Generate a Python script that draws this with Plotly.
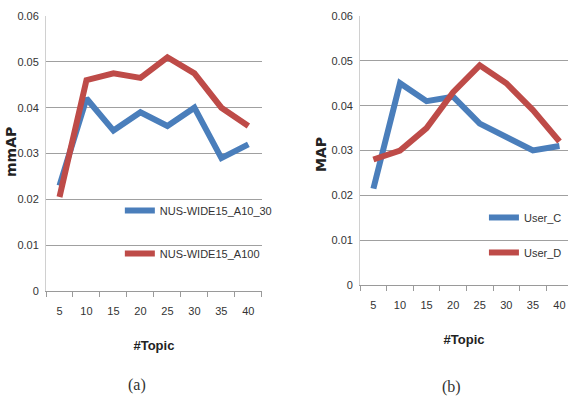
import plotly.graph_objects as go

topics = ["5", "10", "15", "20", "25", "30", "35", "40"]
a_blue = [0.023, 0.042, 0.035, 0.039, 0.036, 0.040, 0.029, 0.032]
a_red = [0.0205, 0.046, 0.0475, 0.0465, 0.051, 0.0475, 0.040, 0.036]
b_blue = [0.0215, 0.045, 0.041, 0.042, 0.036, 0.033, 0.030, 0.031]
b_red = [0.028, 0.030, 0.035, 0.043, 0.049, 0.045, 0.039, 0.032]
yticks = [0, 0.01, 0.02, 0.03, 0.04, 0.05, 0.06]
ytext = ["0", "0.01", "0.02", "0.03", "0.04", "0.05", "0.06"]

BLUE = "#4a7ebb"
RED = "#be4b48"
FONT = "Liberation Sans Narrow, Arial Narrow, Liberation Sans, sans-serif"

fig = go.Figure()
fig.add_trace(go.Scatter(x=topics, y=a_blue, mode="lines", name="NUS-WIDE15_A10_30",
                         line=dict(color=BLUE, width=6), xaxis="x", yaxis="y",
                         legend="legend", legendgroup="a1"))
fig.add_trace(go.Scatter(x=topics, y=a_red, mode="lines", name="NUS-WIDE15_A100",
                         line=dict(color=RED, width=6), xaxis="x", yaxis="y",
                         legend="legend", legendgroup="a2"))
fig.add_trace(go.Scatter(x=topics, y=b_blue, mode="lines", name="User_C",
                         line=dict(color=BLUE, width=6), xaxis="x2", yaxis="y2",
                         legend="legend2", legendgroup="b1"))
fig.add_trace(go.Scatter(x=topics, y=b_red, mode="lines", name="User_D",
                         line=dict(color=RED, width=6), xaxis="x2", yaxis="y2",
                         legend="legend2", legendgroup="b2"))

xcommon = dict(type="category", showgrid=False, showline=True, linecolor="#9a9a9a",
               ticks="outside", tickson="boundaries", ticklen=5, tickcolor="#9a9a9a",
               tickfont=dict(family=FONT, size=11, color="#333"), ticklabelstandoff=10,
               zeroline=False, automargin=False)
ycommon = dict(range=[0, 0.06], tickvals=yticks, ticktext=ytext, showgrid=True,
               gridcolor="#a0a0a0", gridwidth=1, showline=True, linecolor="#d0d0d0",
               tickfont=dict(family=FONT, size=11, color="#333"), zeroline=False,
               ticks="", ticklabelstandoff=4, automargin=False)
xtitle = dict(text="<b>#Topic</b>", font=dict(family=FONT, size=13, color="#222"), standoff=24)
ytitle_font = dict(family="DejaVu Sans", size=14, color="#222")

fig.update_layout(
    width=568, height=398, margin=dict(l=0, r=0, t=0, b=0, autoexpand=False),
    paper_bgcolor="white", plot_bgcolor="white",
    showlegend=True,
    xaxis=dict(xcommon, domain=[0.081, 0.461], anchor="y", range=[-0.5, 7.5], title=xtitle),
    yaxis=dict(ycommon, domain=[0.2688, 0.9598], anchor="x"),
    xaxis2=dict(xcommon, domain=[0.634, 1.0], anchor="y2", range=[-0.5, 7.32], title=xtitle),
    yaxis2=dict(ycommon, domain=[0.2839, 0.9598], anchor="x2"),
    legend=dict(x=0.211, y=0.5076, xanchor="left", yanchor="top", bgcolor="rgba(0,0,0,0)",
                font=dict(family=FONT, size=11, color="#333"), tracegroupgap=24,
                itemwidth=30, traceorder="grouped"),
    legend2=dict(x=0.852, y=0.49, xanchor="left", yanchor="top", bgcolor="rgba(0,0,0,0)",
                 font=dict(family=FONT, size=11, color="#333"), tracegroupgap=16,
                 itemwidth=30, traceorder="grouped"),
    annotations=[
        dict(text="<b>mmAP</b>", x=11/568, y=1-152/398, xref="paper", yref="paper",
             showarrow=False, textangle=-90, xanchor="center", yanchor="middle", font=ytitle_font),
        dict(text="<b>MAP</b>", x=321/568, y=1-155/398, xref="paper", yref="paper",
             showarrow=False, textangle=-90, xanchor="center", yanchor="middle", font=ytitle_font),
        dict(text="(a)", x=137/568, y=1-385/398, xref="paper", yref="paper", showarrow=False,
             xanchor="center", yanchor="middle",
             font=dict(family="Liberation Serif, serif", size=16, color="#333")),
        dict(text="(b)", x=451/568, y=1-387/398, xref="paper", yref="paper", showarrow=False,
             xanchor="center", yanchor="middle",
             font=dict(family="Liberation Serif, serif", size=16, color="#333")),
    ],
)

fig.write_html("out.html")
